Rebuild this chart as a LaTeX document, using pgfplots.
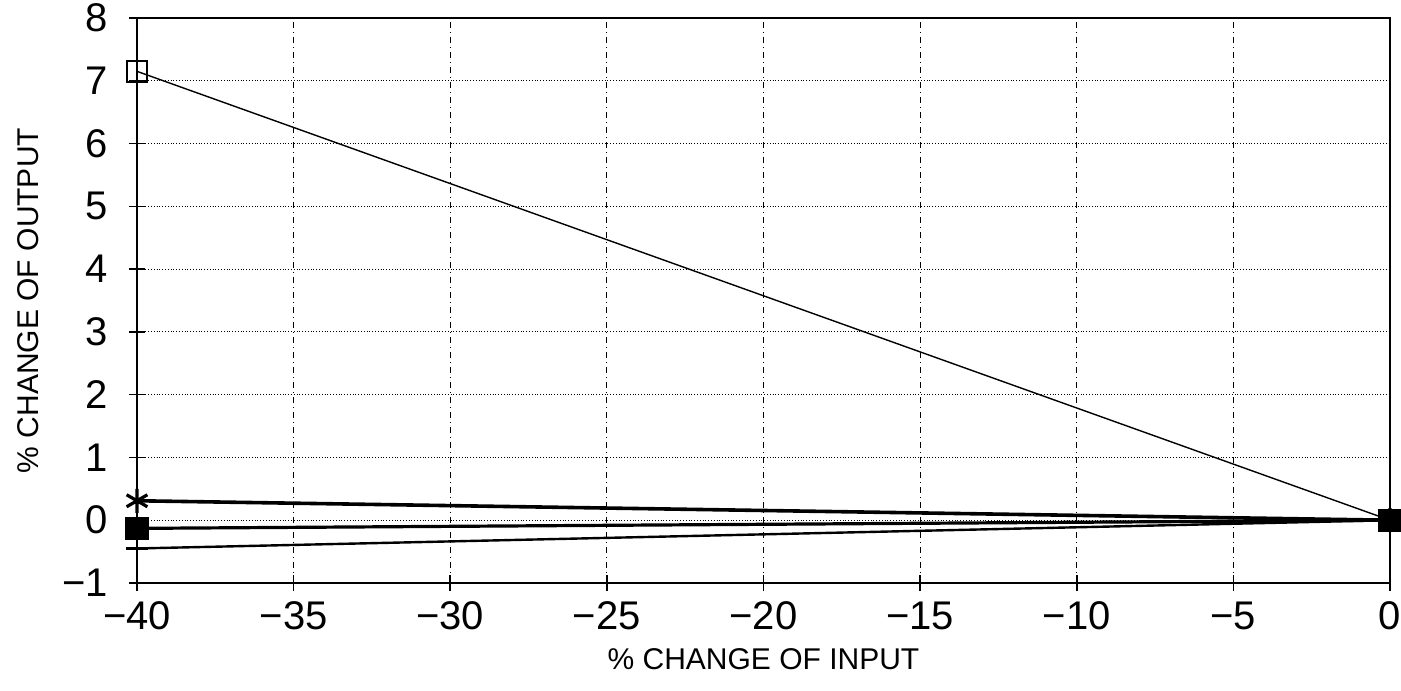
\documentclass[border=0pt]{standalone}
\usepackage{pgfplots}
\pgfplotsset{compat=1.18}
\usepackage{fontspec}
\setmainfont{Liberation Sans}
\begin{document}
\begin{tikzpicture}
\begin{axis}[
  scale only axis,
  width=626.5pt, height=282.5pt,
  xmin=-40, xmax=0, ymin=-1, ymax=8,
  xtick={-40,-35,...,0}, ytick={-1,0,...,8},
  xticklabels={−40,−35,−30,−25,−20,−15,−10,−5,0},
  yticklabels={−1,0,1,2,3,4,5,6,7,8},
  ticklabel style={font=\fontsize{20}{22}\selectfont},
  xticklabel style={yshift=-2pt},
  yticklabel style={xshift=-7pt},
  xlabel={\% CHANGE OF INPUT},
  ylabel={\% CHANGE OF OUTPUT},
  label style={font=\fontsize{15}{17}\selectfont},
  xlabel style={yshift=-2pt},
  ylabel style={yshift=5pt},
  grid=major,
  y grid style={black, densely dotted, line width=0.6pt},
  x grid style={black, dash pattern=on 3pt off 2pt on 0.5pt off 2pt, line width=0.4pt},
  axis line style={line width=1pt},
  tick style={black, line width=0.8pt},
  tick pos=left,
  tick align=center,
  major tick length=8pt,
  clip=false,
]
\addplot[black, line width=0.7pt, mark=square, mark size=5.2pt, mark options={line width=1pt}] coordinates {(-40,7.15) (0,0)};
\addplot[black, line width=1.8pt, mark=asterisk, mark size=6pt, mark options={line width=1.6pt}] coordinates {(-40,0.31) (0,0)};
\addplot[black, line width=1.6pt, mark=square*, mark size=5pt] coordinates {(-40,-0.13) (0,0)};
\addplot[black, line width=1.2pt, mark=+, mark size=5.5pt, mark options={line width=1.4pt}] coordinates {(-40,-0.45) (0,0)};
\addplot[black, only marks, mark=square*, mark size=5.5pt] coordinates {(0,0)};
\end{axis}
\pgfresetboundingbox
\path (current axis.south west) ++(-68.5pt,-53.5pt) coordinate (bl);
\path (current axis.north east) ++(5.5pt,9pt) coordinate (tr);
\path (bl) rectangle (tr);
\end{tikzpicture}
\end{document}
